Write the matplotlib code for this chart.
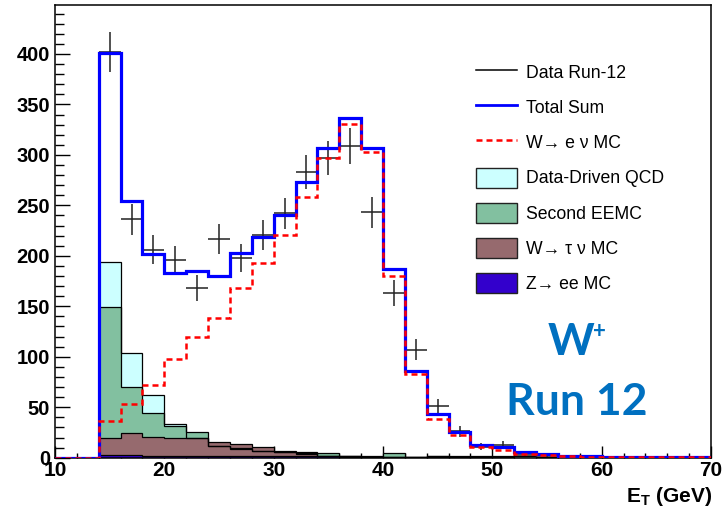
import numpy as np
import matplotlib
matplotlib.use("Agg")
import matplotlib.pyplot as plt
from matplotlib.patches import Patch
from matplotlib.lines import Line2D
from matplotlib.ticker import MultipleLocator

plt.rcParams["font.family"] = ["Liberation Sans", "DejaVu Sans"]
plt.rcParams["mathtext.fontset"] = "custom"
plt.rcParams["mathtext.rm"] = "Liberation Sans"
plt.rcParams["mathtext.bf"] = "Liberation Sans:bold"

# E_T binning: 2 GeV bins from 10 to 70 GeV
bin_edges = np.arange(10, 72, 2)

data_run12 = [0, 0, 402, 236, 206, 196, 168, 217, 198, 221, 242, 283, 297, 309, 243,
              163, 107, 51, 26, 11, 13, 3, 2, 1, 0, 0, 1, 0, 0, 0]
w_enu_mc = [0, 0, 36.0, 53.5, 72.0, 97.5, 119.3, 138.2, 168.5, 192.5, 220.7, 258.1, 296.7,
            330.7, 302.7, 180.1, 83.0, 38.4, 22.0, 10.6, 7.8, 4.0, 3.0, 1.3, 1.0, 0.8, 0.6,
            0.4, 0.3, 0.2]
qcd_data_driven = [0, 0, 193.7, 103.5, 62.0, 33.0, 19.5, 12.0, 9.0, 7.0, 6.0, 4.5, 2.0, 1.0,
                   1.0, 0.3, 0.5, 1.5, 1.5, 1.3, 2.0, 1.3, 1.0, 0.5, 0.3, 0, 0, 0, 0, 0]
second_eemc = [0, 0, 149.0, 70.4, 44.6, 31.7, 25.2, 12.0, 10.0, 7.0, 5.5, 4.0, 5.0, 1.5, 1.0,
               4.4, 0.5, 1.5, 0.5, 0, 0, 0, 0, 0, 0, 0, 0, 0, 0, 0]
w_taunu_mc = [0, 0, 19.2, 24.2, 20.8, 19.2, 19.2, 15.9, 13.3, 10.3, 6.6, 5.3, 2.0, 1.5, 1.0,
              0.8, 1.0, 1.0, 0.5, 0.5, 0.5, 0, 0, 0, 0, 0, 0, 0, 0, 0]
z_ee_mc = [0, 0, 3.0, 2.5, 2.0, 2.0, 2.0, 2.0, 2.0, 2.0, 2.0, 1.5, 1.5, 1.5, 1.5, 1.0, 1.0,
           1.0, 0.5, 0, 0, 0, 0, 0, 0, 0, 0, 0, 0, 0]

legend_labels = ["Data Run-12", "Total Sum", "W\u2192 e \u03bd MC", "Data-Driven QCD",
                 "Second EEMC", "W\u2192 \u03c4 \u03bd MC", "Z\u2192 ee MC"]

c_qcd = "#ccffff"
c_eemc = "#82c0a0"
c_tau = "#966a6e"
c_zee = "#3300cc"

W, H = 726, 512
fig = plt.figure(figsize=(W / 100, H / 100), dpi=100)
ax_l, ax_r, ax_t, ax_b = 55, 711, 5, 457.7
ax = fig.add_axes([ax_l / W, 1 - ax_b / H, (ax_r - ax_l) / W, (ax_b - ax_t) / H])

edges = bin_edges
total_sum = (np.array(w_enu_mc) + np.array(qcd_data_driven) + np.array(second_eemc)
             + np.array(w_taunu_mc) + np.array(z_ee_mc))

# background templates, each drawn from zero and overlaid
for vals, col in [(qcd_data_driven, c_qcd), (second_eemc, c_eemc),
                  (w_taunu_mc, c_tau), (z_ee_mc, c_zee)]:
    ax.stairs(vals, edges, fill=True, color=col, zorder=2)
    ax.stairs(vals, edges, color="black", lw=0.9, zorder=2.1)

# data with Poisson errors
data = np.array(data_run12, dtype=float)
centers = 0.5 * (edges[:-1] + edges[1:])
m = data > 0
ax.errorbar(centers[m], data[m], yerr=np.sqrt(data[m]), xerr=1.0, fmt="none",
            ecolor="#222222", elinewidth=1.1, capsize=0, zorder=3)

ax.stairs(total_sum, edges, color="#0000ff", lw=2.3, zorder=4)
ax.stairs(w_enu_mc, edges, color="#ff0000", lw=1.8, linestyle=(0, (2.4, 1.6)), zorder=5)

ax.set_xlim(10, 70)
ax.set_ylim(0, 448.5)

ax.xaxis.set_major_locator(MultipleLocator(10))
ax.xaxis.set_minor_locator(MultipleLocator(2))
ax.yaxis.set_major_locator(MultipleLocator(50))
ax.yaxis.set_minor_locator(MultipleLocator(10))
ax.tick_params(axis="both", which="both", direction="in", top=False, right=False, width=1.0)
ax.tick_params(axis="x", which="major", length=8.6, pad=2.5)
ax.tick_params(axis="x", which="minor", length=3.5)
ax.tick_params(axis="y", which="major", length=10.8, pad=3.5)
ax.tick_params(axis="y", which="minor", length=6.3)
for lab in ax.get_xticklabels():
    lab.set_fontweight("bold")
    lab.set_fontsize(15)
for lab in ax.get_yticklabels():
    lab.set_fontweight("bold")
    lab.set_fontsize(14.5)
for s in ax.spines.values():
    s.set_linewidth(1.1)

fig.text(712 / W, 1 - 496 / H, r"$\mathbf{E_{T}}$ (GeV)", ha="right", va="center",
         fontsize=15, fontweight="bold")

handles = [
    Line2D([], [], color="black", lw=1.1),
    Line2D([], [], color="#0000ff", lw=2.0),
    Line2D([], [], color="#ff0000", lw=1.8, linestyle=(0, (2.4, 1.6))),
    Patch(facecolor=c_qcd, edgecolor="#222222", lw=1.0),
    Patch(facecolor=c_eemc, edgecolor="#222222", lw=1.0),
    Patch(facecolor=c_tau, edgecolor="#222222", lw=1.0),
    Patch(facecolor=c_zee, edgecolor="#222222", lw=1.0),
]
ax.legend(handles, legend_labels, loc="upper left",
          bbox_to_anchor=(476 / W, 1 - 62 / H), bbox_transform=fig.transFigure,
          frameon=False, borderpad=0, borderaxespad=0, fontsize=12.7,
          handlelength=2.35, handleheight=1.37, handletextpad=0.5, labelspacing=0.86)

blue_txt = "#0070c0"
fig.text(594 / W, 1 - 355 / H, "W", ha="right", va="baseline", color=blue_txt,
         fontsize=32, fontweight="bold", family="Lato")
fig.text(593 / W, 1 - 332 / H, "+", ha="left", va="center", color=blue_txt,
         fontsize=16, fontweight="bold", family="Lato")
fig.text(576.5 / W, 1 - 415 / H, "Run 12", ha="center", va="baseline", color=blue_txt,
         fontsize=32, fontweight="bold", family="Lato")

fig.savefig("out.png", dpi=100)
